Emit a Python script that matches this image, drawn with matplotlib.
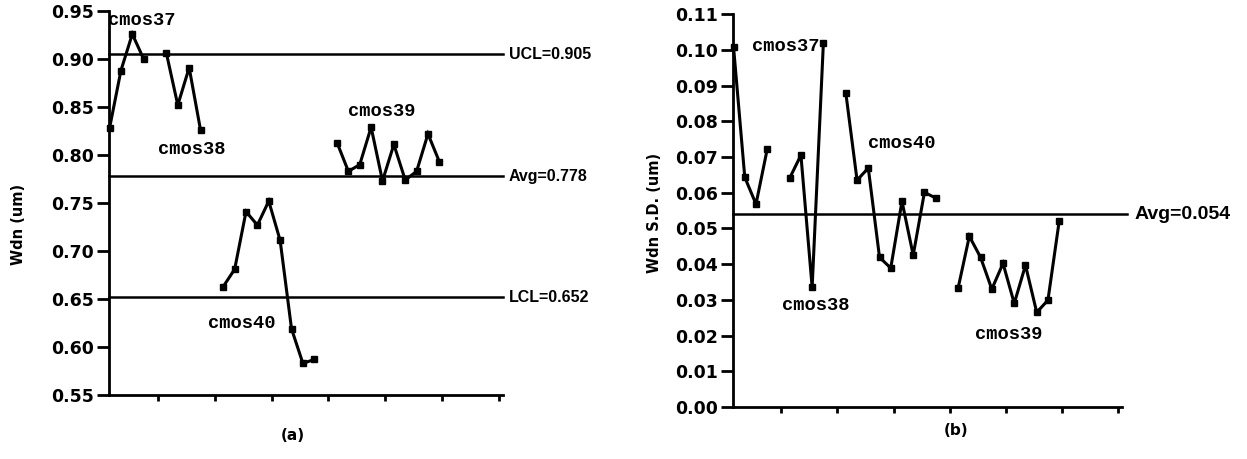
import numpy as np
import matplotlib; matplotlib.use('Agg')
import matplotlib.pyplot as plt
import matplotlib.transforms as mtransforms

# ---- data ----
# sample positions along the run axis, per wafer lot
pos_37 = [1, 2, 3, 4]
pos_38 = [6, 7, 8, 9]
pos_40 = [11, 12, 13, 14, 15, 16, 17, 18, 19]
pos_39 = [21, 22, 23, 24, 25, 26, 27, 28, 29, 30]

# (a) mean Wdn (um)
wdn_37 = [0.828, 0.888, 0.926, 0.900]
wdn_38 = [0.906, 0.852, 0.891, 0.826]
wdn_40 = [0.663, 0.681, 0.741, 0.727, 0.752, 0.711, 0.619, 0.583, 0.587]
wdn_39 = [0.813, 0.783, 0.790, 0.829, 0.773, 0.811, 0.774, 0.783, 0.822, 0.793]
ucl_a, avg_a, lcl_a = 0.905, 0.778, 0.652

# (b) Wdn standard deviation (um)
sd_37 = [0.1008, 0.0643, 0.0568, 0.0722]
sd_38 = [0.0641, 0.0705, 0.0335, 0.1019]
sd_40 = [0.0879, 0.0635, 0.0669, 0.0419, 0.0389, 0.0576, 0.0425, 0.0601, 0.0585]
sd_39 = [0.0333, 0.0478, 0.0419, 0.0330, 0.0402, 0.0290, 0.0397, 0.0265, 0.0299, 0.0520]
avg_b = 0.054

LOTS = ['cmos37', 'cmos38', 'cmos40', 'cmos39']

TICK_FONT = dict(family='DejaVu Sans', weight='bold', size=12.5)
LOT_FONT = dict(family='Liberation Mono', weight='bold', size=13.5)
LIM_FONT = dict(family='Liberation Sans', weight='bold')

fig = plt.figure(figsize=(12.47, 4.59), dpi=100)
ax_a = fig.add_axes([0.0874, 0.1394, 0.316, 0.8366])
ax_b = fig.add_axes([0.5878, 0.1133, 0.312, 0.856])


def style_axis(ax, ylo, yhi, ystep):
    for s in ('top', 'right'):
        ax.spines[s].set_visible(False)
    for s in ('left', 'bottom'):
        ax.spines[s].set_linewidth(2.0)
    ax.set_xlim(0.95, 35.6)
    ax.set_ylim(ylo, yhi)
    ax.set_xticks(np.arange(5.25, 36, 5))
    ax.set_xticklabels([])
    ax.set_yticks(np.arange(ylo, yhi + ystep / 2, ystep))
    ax.yaxis.set_major_formatter(plt.FormatStrFormatter('%.2f'))
    ax.tick_params(axis='y', direction='out', length=9, width=2, pad=2)
    ax.tick_params(axis='x', direction='out', length=4, width=2)
    for lab in ax.get_yticklabels():
        lab.set_fontproperties(matplotlib.font_manager.FontProperties(**TICK_FONT))


def draw_runs(ax, runs):
    for x, y in runs:
        ax.plot(x, y, color='black', lw=2.2, marker='s', ms=4,
                clip_on=False, solid_joinstyle='miter')


def limit_line(ax, val, label, size, xmax=1.0, gap=0.015):
    ax.axhline(val, color='black', lw=1.8, xmin=0, xmax=xmax, clip_on=False)
    tr = mtransforms.blended_transform_factory(ax.transAxes, ax.transData)
    ax.text(xmax + gap, val, label, transform=tr, ha='left', va='center',
            fontsize=size, **LIM_FONT)


# ---- (a) ----
style_axis(ax_a, 0.55, 0.95, 0.05)
draw_runs(ax_a, [(pos_37, wdn_37), (pos_38, wdn_38),
                 (pos_40, wdn_40), (pos_39, wdn_39)])
limit_line(ax_a, ucl_a, f'UCL={ucl_a:.3f}', 11.5)
limit_line(ax_a, avg_a, f'Avg={avg_a:.3f}', 11.5)
limit_line(ax_a, lcl_a, f'LCL={lcl_a:.3f}', 11.5)
ax_a.text(0.9, 0.940, LOTS[0], ha='left', va='center', **LOT_FONT)
ax_a.text(5.3, 0.806, LOTS[1], ha='left', va='center', **LOT_FONT)
ax_a.text(9.7, 0.624, LOTS[2], ha='left', va='center', **LOT_FONT)
ax_a.text(22.0, 0.845, LOTS[3], ha='left', va='center', **LOT_FONT)

# ---- (b) ----
style_axis(ax_b, 0.0, 0.11, 0.01)
draw_runs(ax_b, [(pos_37, sd_37), (pos_38, sd_38),
                 (pos_40, sd_40), (pos_39, sd_39)])
limit_line(ax_b, avg_b, f'Avg={avg_b:.3f}', 14, xmax=1.013, gap=0.02)
ax_b.text(2.6, 0.1008, LOTS[0], ha='left', va='center', **LOT_FONT)
ax_b.text(5.3, 0.0285, LOTS[1], ha='left', va='center', **LOT_FONT)
ax_b.text(13.0, 0.0739, LOTS[2], ha='left', va='center', **LOT_FONT)
ax_b.text(22.5, 0.0204, LOTS[3], ha='left', va='center', **LOT_FONT)

# axis titles and panel captions
fig.text(0.0145, 0.51, 'Wdn (um)', rotation=90, ha='center', va='center',
         family='DejaVu Sans', weight='bold', fontsize=10.5)
fig.text(0.525, 0.536, 'Wdn S.D. (um)', rotation=90, ha='center', va='center',
         family='DejaVu Sans', weight='bold', fontsize=10.5)
fig.text(0.235, 0.052, '(a)', ha='center', va='center',
         family='DejaVu Sans', weight='bold', fontsize=11)
fig.text(0.767, 0.063, '(b)', ha='center', va='center',
         family='DejaVu Sans', weight='bold', fontsize=11)

fig.savefig('out.png', dpi=100, facecolor='white')
plt.close('all')
